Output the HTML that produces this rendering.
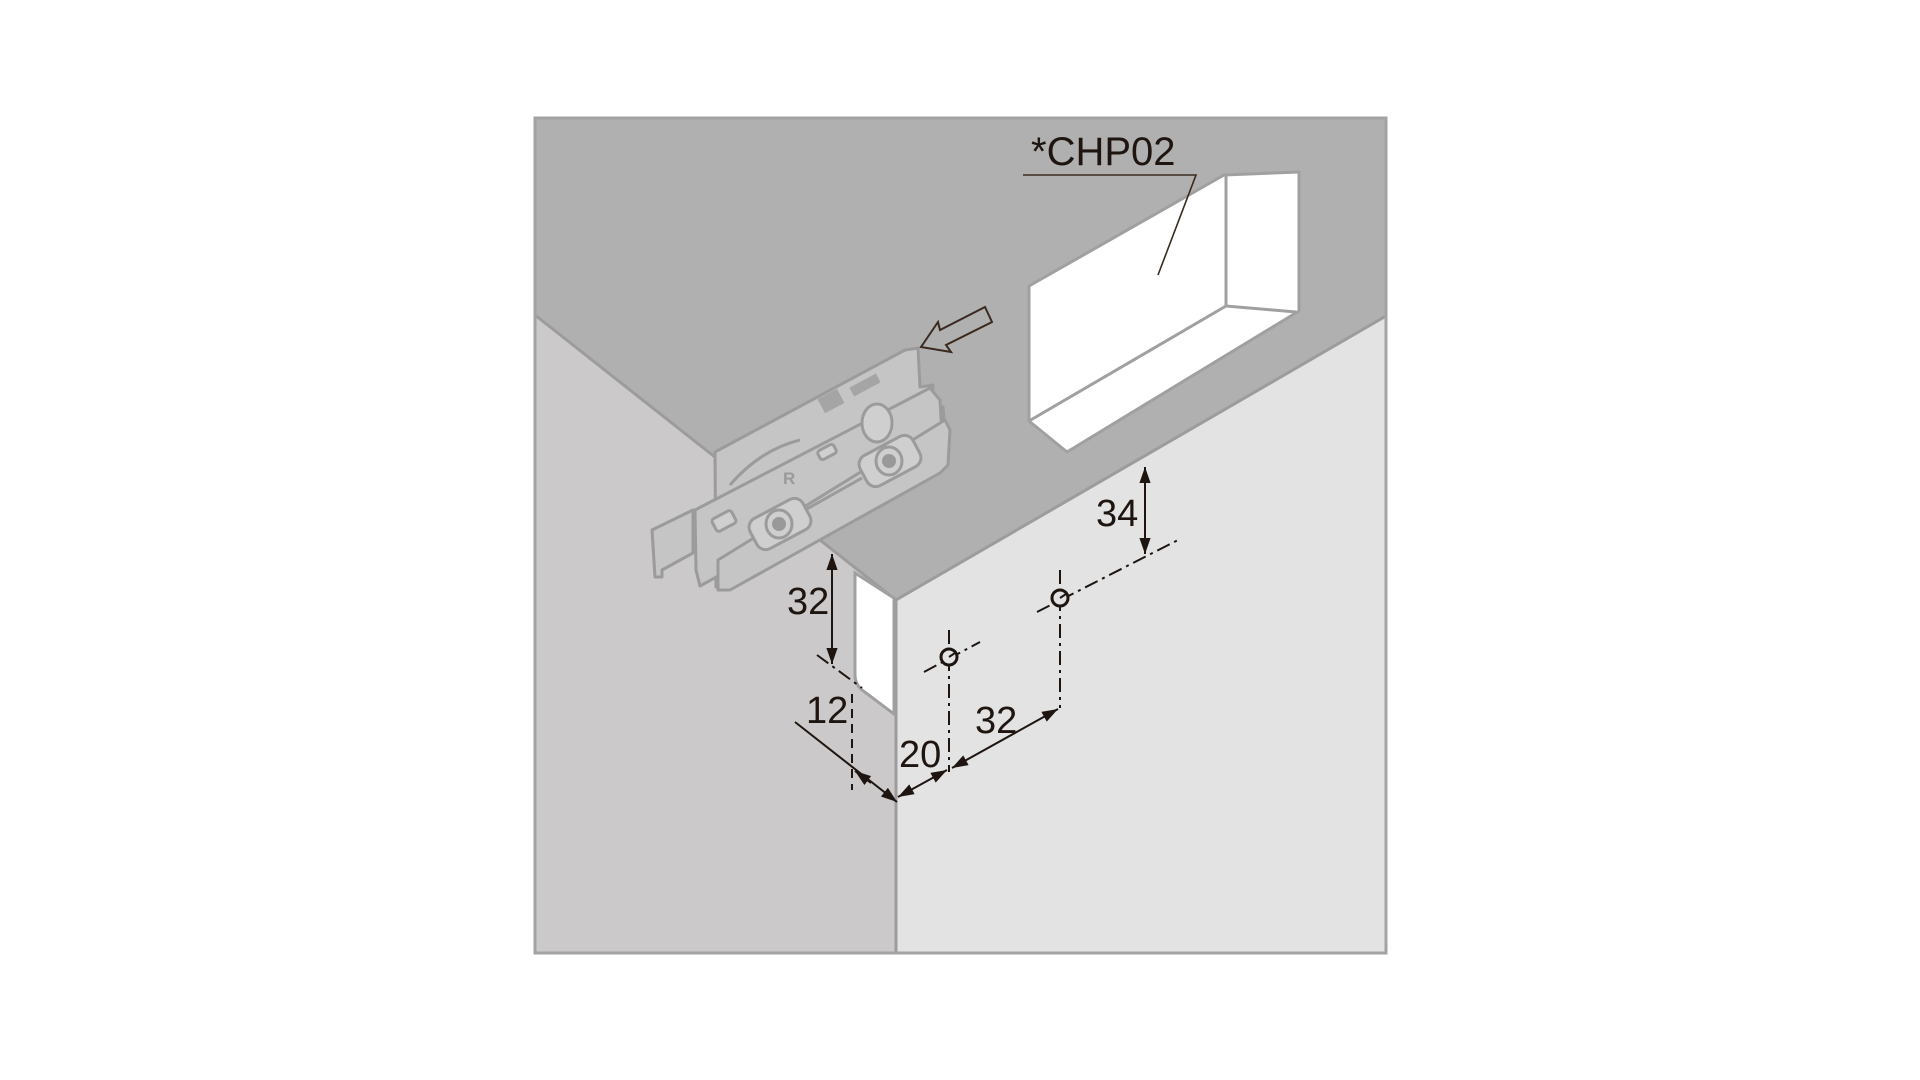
<!DOCTYPE html>
<html><head><meta charset="utf-8"><style>
html,body{margin:0;padding:0;background:#fff;width:1920px;height:1080px;overflow:hidden}
svg{display:block}
text{font-family:"Liberation Sans",sans-serif;fill:#1e1510}
</style></head><body>
<svg width="1920" height="1080" viewBox="0 0 1920 1080" xmlns="http://www.w3.org/2000/svg">
<defs>
<marker id="ar" viewBox="0 0 10 10" refX="10" refY="5" markerWidth="7" markerHeight="7" orient="auto-start-reverse" markerUnits="userSpaceOnUse">
<path d="M0,0 L10,5 L0,10 z" fill="#1e1510"/></marker>
<marker id="ab" viewBox="0 0 10 10" refX="10" refY="5" markerWidth="16" markerHeight="16" orient="auto-start-reverse" markerUnits="userSpaceOnUse">
<path d="M0,1.5 L10,5 L0,8.5 z" fill="#1e1510"/></marker>
</defs>
<!-- ceiling -->
<rect x="535" y="118" width="851" height="835" fill="#b1b0b0"/>
<!-- left wall -->
<polygon points="535,315 896,600 896,953 535,953" fill="#cbc9c9"/>
<!-- right wall -->
<polygon points="896,600 1386,316 1386,953 896,953" fill="#e3e3e3"/>
<polyline points="535,315 896,600 1386,316" fill="none" stroke="#9c9c9c" stroke-width="3"/>
<line x1="896" y1="600" x2="896" y2="953" stroke="#9c9c9c" stroke-width="3"/>
<rect x="535" y="118" width="851" height="835" fill="none" stroke="#a3a3a3" stroke-width="3"/>

<!-- CHP02 box -->
<polygon points="1029,286 1224,175 1299,172 1299,311 1294,314 1067,452 1029,421" fill="#fff" stroke="#a0a0a0" stroke-width="3" stroke-linejoin="round"/>
<line x1="1226" y1="175" x2="1226" y2="306" stroke="#a0a0a0" stroke-width="3"/>
<line x1="1226" y1="306" x2="1296" y2="312" stroke="#a0a0a0" stroke-width="3"/>
<line x1="1029" y1="421" x2="1226" y2="306" stroke="#a0a0a0" stroke-width="3"/>
<text x="1031" y="165" font-size="40">*CHP02</text>
<polyline points="1023,175 1196,175 1158,275" fill="none" stroke="#3a2a20" stroke-width="1.6"/>

<!-- hollow arrow -->
<polygon points="921,347 938,322 940,330 985,307 992,322 946,345 951,352" fill="none" stroke="#3a2a20" stroke-width="2"/>

<!-- bracket -->
<g stroke="#9b9b9b" stroke-width="3" fill="#c6c5c5" stroke-linejoin="round">
<polygon points="652,530 693,510 693,553 662,570 662,577 655,577"/>
<polygon points="715,452 905,350 918,348 920,387 933,385 933,407 943,407 947,460 940,470 727,587 716,587"/>
<polygon points="695,510 930,388 940,400 943,452 700,586 696,570"/>
<polygon points="718,560 945,420 950,430 948,465 940,473 730,590 718,590"/>
<rect x="850" y="380" width="30" height="10" fill="#a5a5a5" stroke="none" transform="rotate(-28 865 385)"/>
<rect x="820" y="393" width="22" height="16" fill="#a5a5a5" stroke="none" transform="rotate(-28 831 401)"/>
<ellipse cx="877" cy="423" rx="15" ry="19" fill="#cfcfcf"/>
<rect x="750" y="507" width="60" height="34" rx="10" transform="rotate(-28 780 524)" fill="#cfcfcf"/>
<rect x="860" y="444" width="60" height="34" rx="10" transform="rotate(-28 890 461)" fill="#cfcfcf"/>
<line x1="805" y1="510" x2="862" y2="478"/>
<ellipse cx="779" cy="524" rx="13" ry="14" fill="#cfcfcf"/>
<ellipse cx="889" cy="461" rx="13" ry="14" fill="#cfcfcf"/>
<rect x="713" y="514" width="22" height="14" rx="3" transform="rotate(-28 724 521)" fill="#cfcfcf"/>
<path d="M730,485 Q760,450 800,440" fill="none"/>
<rect x="818" y="447" width="18" height="10" rx="3" transform="rotate(-28 827 452)" fill="#d0d0d0"/>
</g>
<circle cx="779" cy="524" r="7" fill="#999"/>
<circle cx="889" cy="461" r="7" fill="#999"/>
<text x="783" y="484" font-size="17" font-weight="bold" style="fill:#9a9a9a">R</text>

<!-- white door edge -->
<path d="M855,573 L894,598 L894,714 L862,690 Q855,684 855,675 Z" fill="#fff" stroke="#a0a0a0" stroke-width="3"/>

<!-- dimensions -->
<g stroke="#1e1510" stroke-width="2" fill="none">
<line x1="1145" y1="467" x2="1145" y2="554" marker-start="url(#ab)" marker-end="url(#ab)"/>
<line x1="1037" y1="612" x2="1180" y2="539" stroke-dasharray="14,5,3,5"/>
<line x1="1060" y1="570" x2="1060" y2="708" stroke-dasharray="14,5,3,5"/>
<line x1="924" y1="672" x2="980" y2="642" stroke-dasharray="14,5,3,5"/>
<line x1="949" y1="630" x2="949" y2="772" stroke-dasharray="14,5,3,5"/>
<line x1="952" y1="768" x2="1058" y2="709" marker-start="url(#ab)" marker-end="url(#ab)"/>
<line x1="898" y1="797" x2="947" y2="770" marker-start="url(#ab)" marker-end="url(#ab)"/>
<line x1="795" y1="722" x2="897" y2="802" marker-end="url(#ab)"/>
<line x1="871" y1="783" x2="855" y2="771" marker-end="url(#ab)"/>
<line x1="852" y1="694" x2="852" y2="790" stroke-dasharray="9,6"/>
<line x1="832" y1="554" x2="832" y2="664" marker-start="url(#ab)" marker-end="url(#ab)"/>
<line x1="817" y1="655" x2="862" y2="688" stroke-dasharray="14,5,3,5"/>
</g>
<g stroke="#1e1510" stroke-width="3" fill="#e3e3e3">
<circle cx="1060" cy="598" r="8"/>
<circle cx="949" cy="657" r="8"/>
</g>
<g stroke="#1e1510" stroke-width="2">
<line x1="1060" y1="598" x2="1066" y2="594"/>
<line x1="949" y1="657" x2="955" y2="653"/>
</g>
<text x="1096" y="526" font-size="38">34</text>
<text x="975" y="733" font-size="38">32</text>
<text x="899" y="767" font-size="38">20</text>
<text x="806" y="723" font-size="38">12</text>
<text x="787" y="614" font-size="38">32</text>
</svg>
</body></html>
